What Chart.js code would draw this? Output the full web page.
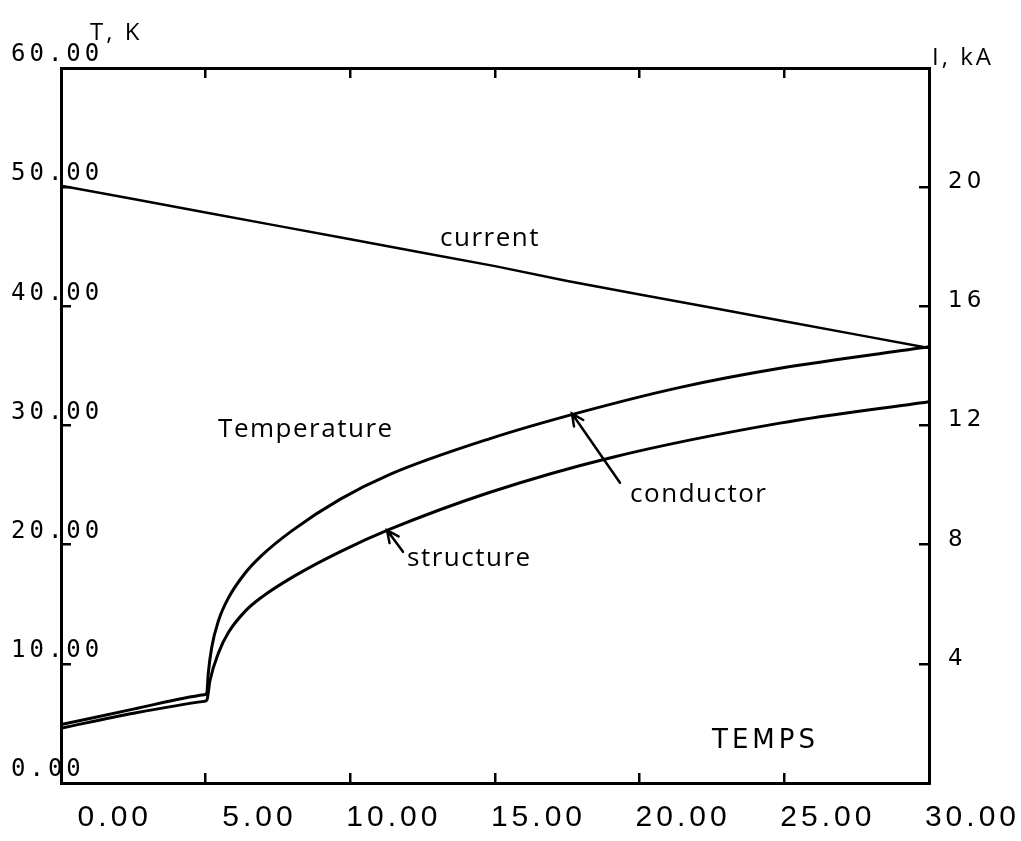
<!DOCTYPE html>
<html>
<head>
<meta charset="utf-8">
<script src="https://cdn.jsdelivr.net/npm/chart.js@4.4.1/dist/chart.umd.min.js"></script>
<style>
    html, body { margin: 0; padding: 0; background: #fff; }
    canvas { display: block; }
</style>
</head>
<body>
<canvas id="chart" width="1021" height="841"></canvas>
<script>
// values (time, T in K, I in kA)
const condTime = [0, 2.5, 4.95, 5.04, 5.09, 5.21, 5.44, 5.78, 6.36, 6.94, 8.0, 9.64, 11.37, 14.83, 17.94, 21.4, 24.85, 30];
const condTemp = [4.9, 6.2, 7.4, 7.55, 9.2, 11.4, 13.6, 15.5, 17.6, 19.1, 21.2, 23.8, 25.9, 28.9, 31.1, 33.2, 34.8, 36.6];

const structTime = [0, 2.5, 4.95, 5.04, 5.15, 5.44, 5.78, 6.36, 6.94, 8.09, 9.64, 11.37, 14.83, 19, 24.85, 30];
const structTemp = [4.6, 5.85, 6.85, 6.95, 8.6, 10.9, 12.6, 14.4, 15.6, 17.4, 19.4, 21.3, 24.4, 27.3, 30.2, 32.0];

const currTime = [0, 2.5, 5, 7.5, 10, 12.5, 15, 17.5, 20, 22.5, 25, 27.5, 30];
const currKA = [20.05, 19.6, 19.15, 18.7, 18.25, 17.8, 17.35, 16.85, 16.4, 15.95, 15.5, 15.05, 14.6];

const timeTicks = [0, 5, 10, 15, 20, 25, 30];
const innerTimeTicks = [5, 10, 15, 20, 25];
const tempTicks = [0, 10, 20, 30, 40, 50, 60];
const currTicks = [4, 8, 12, 16, 20];

function points(xs, ys) {
    return xs.map(function (x, i) { return { x: x, y: ys[i] }; });
}

function fixedTicks(list) {
    return function (scale) {
        scale.ticks = list.map(function (v) { return { value: v }; });
    };
}

const notes = [
    { text: 'current', x: 13.1, y: 45.1 },
    { text: 'Temperature', x: 5.43, y: 29.0 },
    { text: 'conductor', x: 19.67, y: 23.6 },
    { text: 'structure', x: 11.96, y: 18.2 }
];
const arrows = [
    { from: [19.32, 25.2], to: [17.66, 31.0] },
    { from: [11.82, 19.4], to: [11.27, 21.2] }
];

const notesPlugin = {
    id: 'notes',
    beforeDraw: function (chart) {
        chart.ctx.letterSpacing = '4px';
    },
    afterDraw: function (chart) {
        const ctx = chart.ctx;
        const xs = chart.scales.x;
        const ys = chart.scales.y;
        const area = chart.chartArea;

        ctx.save();
        ctx.fillStyle = '#000';
        ctx.strokeStyle = '#000';
        ctx.textAlign = 'left';
        ctx.textBaseline = 'alphabetic';

        ctx.font = '26px "Open Sans"';
        ctx.letterSpacing = '1.5px';
        notes.forEach(function (n) {
            ctx.fillText(n.text, xs.getPixelForValue(n.x), ys.getPixelForValue(n.y));
        });

        ctx.font = '24px "Open Sans"';
        ctx.letterSpacing = '3px';
        ctx.fillText('T, K', area.left + 29, area.top - 28);
        ctx.fillText('I, kA', area.right + 3, area.top - 3);

        ctx.font = '26px "DejaVu Sans"';
        ctx.letterSpacing = '4px';
        ctx.fillText('TEMPS', xs.getPixelForValue(22.5), ys.getPixelForValue(2.94));

        ctx.lineWidth = 2.5;
        ctx.lineCap = 'round';
        arrows.forEach(function (a) {
            const x1 = xs.getPixelForValue(a.from[0]);
            const y1 = ys.getPixelForValue(a.from[1]);
            const x2 = xs.getPixelForValue(a.to[0]);
            const y2 = ys.getPixelForValue(a.to[1]);
            const ang = Math.atan2(y2 - y1, x2 - x1);
            ctx.beginPath();
            ctx.moveTo(x1, y1);
            ctx.lineTo(x2, y2);
            ctx.moveTo(x2 - 13 * Math.cos(ang - 0.45), y2 - 13 * Math.sin(ang - 0.45));
            ctx.lineTo(x2, y2);
            ctx.lineTo(x2 - 13 * Math.cos(ang + 0.45), y2 - 13 * Math.sin(ang + 0.45));
            ctx.stroke();
        });
        ctx.restore();
    }
};

const lineStyle = {
    borderColor: '#000',
    borderWidth: 3,
    pointRadius: 0,
    fill: false,
    cubicInterpolationMode: 'monotone'
};

const gridStyle = {
    drawOnChartArea: false,
    color: '#000',
    lineWidth: 2.5,
    tickLength: -10
};
const borderStyle = { display: true, color: '#000', width: 3 };

function horizontalSize(h) {
    return function (s) {
        s.height = h;
        s.paddingLeft = 0;
        s.paddingRight = 0;
    };
}

new Chart(document.getElementById('chart'), {
    type: 'line',
    data: {
        datasets: [
            Object.assign({ label: 'conductor', data: points(condTime, condTemp), yAxisID: 'y' }, lineStyle),
            Object.assign({ label: 'structure', data: points(structTime, structTemp), yAxisID: 'y' }, lineStyle),
            Object.assign({ label: 'current', data: points(currTime, currKA), yAxisID: 'y2' }, lineStyle,
                { borderWidth: 2.5, cubicInterpolationMode: 'default', tension: 0 })
        ]
    },
    options: {
        responsive: false,
        animation: false,
        layout: { padding: 0 },
        plugins: {
            legend: { display: false },
            tooltip: { enabled: false }
        },
        scales: {
            x: {
                type: 'linear',
                position: 'bottom',
                min: 0,
                max: 30,
                afterBuildTicks: fixedTicks(timeTicks),
                afterFit: horizontalSize(58),
                grid: gridStyle,
                border: borderStyle,
                ticks: {
                    color: '#000',
                    font: { family: 'Liberation Sans', size: 30 },
                    align: 'end',
                    labelOffset: 91,
                    padding: 27,
                    maxRotation: 0,
                    autoSkip: false,
                    callback: function (v) { return Number(v).toFixed(2); }
                }
            },
            x2: {
                type: 'linear',
                position: 'top',
                min: 0,
                max: 30,
                afterBuildTicks: fixedTicks(innerTimeTicks),
                afterFit: horizontalSize(68),
                grid: gridStyle,
                border: borderStyle,
                ticks: { display: false }
            },
            y: {
                type: 'linear',
                position: 'left',
                min: 0,
                max: 60,
                afterBuildTicks: fixedTicks(tempTicks),
                afterFit: function (s) { s.width = 61; },
                grid: gridStyle,
                border: borderStyle,
                ticks: {
                    color: '#000',
                    font: { family: 'DejaVu Sans Mono', size: 24 },
                    mirror: true,
                    crossAlign: 'near',
                    padding: -50,
                    labelOffset: -13,
                    autoSkip: false,
                    callback: function (v) { return Number(v).toFixed(2); }
                }
            },
            y2: {
                type: 'linear',
                position: 'right',
                min: 0,
                max: 24,
                afterBuildTicks: fixedTicks(currTicks),
                afterFit: function (s) { s.width = 92; },
                grid: gridStyle,
                border: borderStyle,
                ticks: {
                    color: '#000',
                    font: { family: 'DejaVu Sans', size: 23 },
                    crossAlign: 'near',
                    padding: 29,
                    labelOffset: -5,
                    autoSkip: false,
                    callback: function (v) { return String(v); }
                }
            }
        }
    },
    plugins: [notesPlugin]
});
</script>
</body>
</html>
